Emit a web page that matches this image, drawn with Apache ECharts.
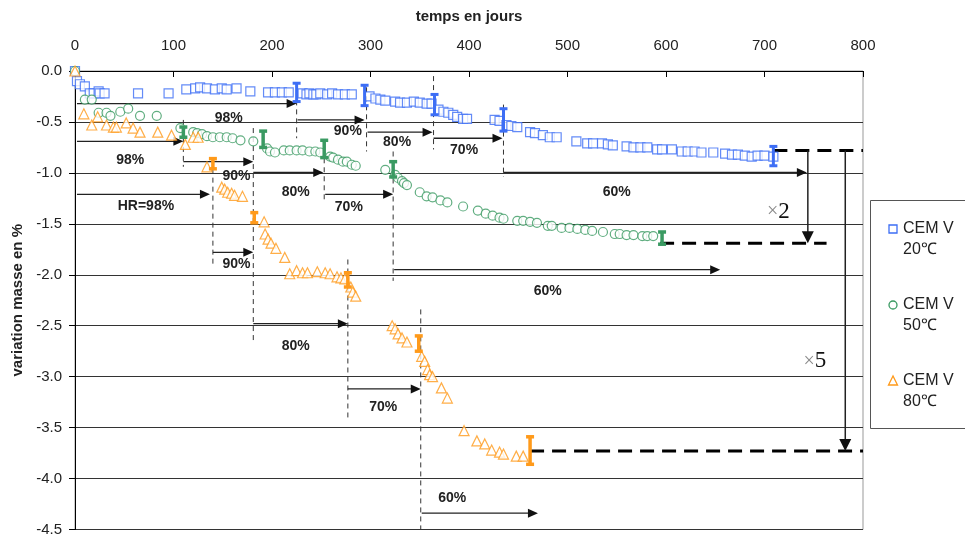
<!DOCTYPE html>
<html><head><meta charset="utf-8">
<script src="https://cdn.jsdelivr.net/npm/echarts@6/dist/echarts.min.js"></script>
<style>html,body{margin:0;padding:0;background:#fff}#c{width:965px;height:537px}</style>
</head><body><div id="c"></div>
<script>
// ---------- data ----------
const xTicks = [0,100,200,300,400,500,600,700,800];
const yTicks = [0,-0.5,-1,-1.5,-2,-2.5,-3,-3.5,-4,-4.5];

const seriesNames = ['CEM V 20℃','CEM V 50℃','CEM V 80℃'];

const blueX = [0,2,5,10,15,19,24,25,30,64,95,113,122,127,134,142,149,154,164,178,196,203,210,217,231,235,238,242,245,249,256,261,267,274,281,299,305,310,315,325,330,337,344,350,357,362,369,374,379,384,388,394,398,426,431,438,443,449,462,467,475,482,489,509,520,526,535,541,546,560,567,574,581,591,596,606,616,622,629,636,648,660,667,673,680,687,693,700,709];
const blueY = [0,-0.10,-0.13,-0.15,-0.22,-0.22,-0.20,-0.22,-0.22,-0.22,-0.22,-0.18,-0.17,-0.16,-0.17,-0.18,-0.17,-0.18,-0.17,-0.20,-0.21,-0.21,-0.21,-0.21,-0.22,-0.23,-0.22,-0.23,-0.23,-0.22,-0.23,-0.22,-0.23,-0.23,-0.23,-0.25,-0.27,-0.28,-0.29,-0.30,-0.31,-0.31,-0.30,-0.31,-0.32,-0.32,-0.38,-0.40,-0.41,-0.43,-0.45,-0.47,-0.47,-0.48,-0.49,-0.53,-0.54,-0.55,-0.60,-0.61,-0.63,-0.65,-0.65,-0.69,-0.71,-0.71,-0.71,-0.72,-0.73,-0.74,-0.75,-0.75,-0.75,-0.77,-0.77,-0.77,-0.79,-0.79,-0.79,-0.80,-0.80,-0.81,-0.82,-0.82,-0.83,-0.84,-0.83,-0.83,-0.84];

const greenX = [0,10,17,24,32,36,46,54,66,83,107,120,124,129,134,140,147,154,160,168,181,195,198,203,212,218,225,231,238,244,249,259,262,267,272,276,281,285,315,325,328,332,334,337,350,357,363,371,378,394,409,417,424,431,435,449,455,462,469,480,484,494,502,510,518,525,536,548,553,560,567,576,581,587];
const greenY = [0,-0.28,-0.28,-0.41,-0.41,-0.44,-0.40,-0.37,-0.44,-0.44,-0.56,-0.60,-0.61,-0.62,-0.64,-0.65,-0.65,-0.65,-0.66,-0.68,-0.69,-0.76,-0.79,-0.80,-0.78,-0.78,-0.78,-0.78,-0.79,-0.79,-0.80,-0.84,-0.85,-0.87,-0.89,-0.89,-0.92,-0.93,-0.97,-1.02,-1.05,-1.08,-1.10,-1.12,-1.19,-1.23,-1.24,-1.27,-1.29,-1.33,-1.37,-1.40,-1.42,-1.44,-1.45,-1.47,-1.47,-1.48,-1.49,-1.52,-1.52,-1.54,-1.54,-1.55,-1.56,-1.57,-1.58,-1.60,-1.60,-1.61,-1.61,-1.62,-1.62,-1.62];

const orangeX = [0,9,17,23,32,39,42,52,59,66,84,98,112,120,125,134,149,152,155,159,162,170,192,193,196,199,204,213,218,225,231,236,246,254,259,266,270,274,280,282,285,322,325,328,332,337,352,355,358,360,363,372,378,395,408,416,423,431,435,448,455];
const orangeY = [0,-0.42,-0.53,-0.45,-0.53,-0.55,-0.55,-0.51,-0.56,-0.60,-0.60,-0.63,-0.72,-0.65,-0.65,-0.94,-1.14,-1.16,-1.19,-1.20,-1.22,-1.23,-1.48,-1.60,-1.65,-1.69,-1.74,-1.83,-1.99,-1.96,-1.98,-1.98,-1.97,-1.98,-1.99,-2.02,-2.03,-2.04,-2.12,-2.17,-2.21,-2.50,-2.53,-2.58,-2.62,-2.66,-2.80,-2.85,-2.93,-2.98,-3.00,-3.11,-3.21,-3.53,-3.63,-3.66,-3.72,-3.74,-3.76,-3.78,-3.78];

// error bars: x, low, high
const blueErrX = [225,294,365,435,709];
const blueErrLo = [-0.30,-0.34,-0.43,-0.59,-0.93];
const blueErrHi = [-0.12,-0.14,-0.23,-0.37,-0.74];
const greenErrX = [110,191,253,323,596];
const greenErrLo = [-0.65,-0.75,-0.85,-1.04,-1.70];
const greenErrHi = [-0.55,-0.59,-0.68,-0.89,-1.58];
const orangeErrX = [140,182,277,349,462];
const orangeErrLo = [-0.96,-1.49,-2.12,-2.75,-3.86];
const orangeErrHi = [-0.86,-1.39,-1.98,-2.60,-3.59];

// annotations (data units): humidity phase arrows [x1, x2, y]
const arrowX1 = [2,226,297,364,435, 2,110,181,254,324, 2,140,181,277,352];
const arrowX2 = [225,294,363,434,743, 110,181,252,323,655, 137,181,277,351,470];
const arrowY  = [-0.32,-0.48,-0.60,-0.66,-0.995, -0.69,-0.89,-0.995,-1.21,-1.95, -1.21,-1.78,-2.48,-3.12,-4.34];
// dashed verticals [x, yTop, yBottom]
const dashX   = [225,296,364,435, 110,181,253,323, 140,277,351];
const dashTop = [-0.20,-0.16,-0.05,-0.33, -0.48,-0.56,-0.68,-0.79, -0.87,-1.85,-2.34];
const dashBot = [-0.66,-0.79,-0.77,-1.04, -0.94,-2.68,-1.29,-2.06, -1.93,-3.40,-4.50];
// phase labels
const labelText = ['98%','90%','80%','70%','60%', '98%','90%','80%','70%','60%', 'HR=98%','90%','80%','70%','60%'];
const labelX = [156,277,327,395,550, 56,164,224,278,480, 72,164,224,313,383];
const labelY = [-0.46,-0.59,-0.70,-0.78,-1.19, -0.87,-1.03,-1.19,-1.34,-2.16, -1.33,-1.90,-2.70,-3.30,-4.19];
// thick dashed final levels [x1, x2, y]
const levelX1 = [709,594,462];
const levelX2 = [800,763,800];
const levelY  = [-0.78,-1.69,-3.73];
// vertical ratio arrows [x, yFrom, yTo]
const ratioX = [744,782];
const ratioFrom = [-0.78,-0.78];
const ratioTo = [-1.69,-3.73];
const ratioLabelX = [716,753];
const ratioLabelY = [-1.38,-2.85];
const ratioLabelText = ['2','5'];

// ---------- styles ----------
const BLUE = '#3d6ef5', GREEN = '#3a9a62', ORANGE = '#ff9a1a';
const FONT = "'Liberation Sans', Arial, sans-serif";

function pairs(xs, ys){ const n=Math.min(xs.length, ys.length); const out=[]; for(let i=0;i<n;i++) out.push([xs[i], ys[i]]); return out; }
function triples(a,b,c){ const n=Math.min(a.length,b.length,c.length); const out=[]; for(let i=0;i<n;i++) out.push([a[i],b[i],c[i]]); return out; }

function errRender(color, w){
  return function(params, api){
    const x=api.value(0), lo=api.value(1), hi=api.value(2);
    const p1=api.coord([x,hi]), p2=api.coord([x,lo]);
    const c=4;
    const st={stroke:color, lineWidth:w};
    return {type:'group', children:[
      {type:'line', shape:{x1:p1[0],y1:p1[1],x2:p2[0],y2:p2[1]}, style:st},
      {type:'line', shape:{x1:p1[0]-c,y1:p1[1],x2:p1[0]+c,y2:p1[1]}, style:st},
      {type:'line', shape:{x1:p2[0]-c,y1:p2[1],x2:p2[0]+c,y2:p2[1]}, style:st}
    ]};
  };
}

function arrowRender(params, api){
  const x1=api.value(0), x2=api.value(1), y=api.value(2);
  const a=api.coord([x1,y]), b=api.coord([x2,y]);
  const L=10, H=4.5;
  return {type:'group', children:[
    {type:'line', shape:{x1:a[0],y1:a[1],x2:b[0]-L+1,y2:b[1]}, style:{stroke:'#222', lineWidth:1.3}},
    {type:'polygon', shape:{points:[[b[0],b[1]],[b[0]-L,b[1]-H],[b[0]-L,b[1]+H]]}, style:{fill:'#111'}}
  ]};
}
function dashRender(params, api){
  const x=api.value(0), t=api.value(1), bo=api.value(2);
  const a=api.coord([x,t]), b=api.coord([x,bo]);
  return {type:'line', shape:{x1:a[0],y1:a[1],x2:b[0],y2:b[1]}, style:{stroke:'#333', lineWidth:1, lineDash:[5,4]}};
}
function labelRender(params, api){
  const p=api.coord([api.value(0), api.value(1)]);
  return {type:'text', x:p[0], y:p[1], style:{text:labelText[params.dataIndex], fill:'#222', font:"bold 14px "+FONT, align:'center', verticalAlign:'middle'}};
}
function levelRender(params, api){
  const a=api.coord([api.value(0), api.value(2)]), b=api.coord([api.value(1), api.value(2)]);
  return {type:'line', shape:{x1:a[0],y1:a[1],x2:b[0],y2:b[1]}, style:{stroke:'#000', lineWidth:3, lineDash:[14,8]}};
}
function ratioRender(params, api){
  const x=api.value(0);
  const a=api.coord([x, api.value(1)]), b=api.coord([x, api.value(2)]);
  const L=12, H=6;
  return {type:'group', children:[
    {type:'line', shape:{x1:a[0],y1:a[1],x2:b[0],y2:b[1]-L+1}, style:{stroke:'#222', lineWidth:1.5}},
    {type:'polygon', shape:{points:[[b[0],b[1]],[b[0]-H,b[1]-L],[b[0]+H,b[1]-L]]}, style:{fill:'#111'}}
  ]};
}
function ratioLabelRender(params, api){
  const p=api.coord([api.value(0), api.value(1)]);
  return {type:'group', children:[
    {type:'text', x:p[0]-2, y:p[1], style:{text:'×', fill:'#8a8a8a', font:"20px 'Liberation Serif', 'DejaVu Serif', serif", align:'right', verticalAlign:'middle'}},
    {type:'text', x:p[0]-2, y:p[1], style:{text:ratioLabelText[params.dataIndex], fill:'#111', font:"23px 'Liberation Serif', 'DejaVu Serif', serif", align:'left', verticalAlign:'middle'}}
  ]};
}

const chart = echarts.init(document.getElementById('c'), null, {renderer:'canvas'});

const legendItems = [
  {y:229, color:BLUE, shape:'rect'},
  {y:305, color:GREEN, shape:'circle'},
  {y:381, color:ORANGE, shape:'tri'}
];
const graphics = [{type:'rect', left:870, top:200, shape:{x:0,y:0,width:110,height:228}, style:{fill:'#fff', stroke:'#555', lineWidth:1}, z:10}];
legendItems.forEach((it, i) => {
  let sym;
  if (it.shape==='rect') sym = {type:'rect', x:889, y:it.y-4, shape:{x:0,y:0,width:8,height:8}, style:{fill:'#fff', stroke:it.color, lineWidth:1.3}};
  else if (it.shape==='circle') sym = {type:'circle', x:893, y:it.y, shape:{cx:0,cy:0,r:4}, style:{fill:'#fff', stroke:it.color, lineWidth:1.3}};
  else sym = {type:'polygon', x:893, y:it.y, shape:{points:[[0,-5],[-4.5,4],[4.5,4]]}, style:{fill:'#fff', stroke:it.color, lineWidth:1.3}};
  sym.z = 11;
  graphics.push(sym);
  const nm = seriesNames[i].split(' ');
  graphics.push({type:'text', x:903, y:it.y, z:11, style:{text:nm[0]+' '+nm[1], fill:'#222', font:"16px "+FONT, verticalAlign:'middle'}});
  graphics.push({type:'text', x:903, y:it.y+21, z:11, style:{text:nm[2], fill:'#222', font:"16px "+FONT, verticalAlign:'middle'}});
});

const option = {
  animation:false,
  backgroundColor:'#fff',
  grid:{left:75, right:102, top:71, bottom:6, show:true, borderColor:'#999', borderWidth:1},
  xAxis:{
    type:'value', position:'top', min:xTicks[0], max:xTicks[xTicks.length-1], interval:100,
    name:'temps en jours', nameLocation:'middle', nameGap:47,
    nameTextStyle:{fontFamily:FONT, fontWeight:'bold', fontSize:15, color:'#222'},
    axisLine:{show:true, onZero:false, lineStyle:{color:'#000', width:1}},
    axisTick:{show:true, inside:true, length:6, lineStyle:{color:'#000'}},
    axisLabel:{fontFamily:"'Liberation Sans Narrow', 'Liberation Sans', Arial", fontSize:15, color:'#222', margin:18},
    splitLine:{show:false}
  },
  yAxis:{
    type:'value', min:yTicks[yTicks.length-1], max:yTicks[0], interval:0.5,
    name:'variation masse en %', nameLocation:'middle', nameGap:50,
    nameTextStyle:{fontFamily:FONT, fontWeight:'bold', fontSize:15, color:'#222'},
    axisLine:{show:true, lineStyle:{color:'#000', width:1}},
    axisTick:{show:true, inside:false, length:6, lineStyle:{color:'#000'}},
    axisLabel:{fontFamily:FONT, fontSize:15, color:'#222', margin:13, formatter:v=>v.toFixed(1)},
    splitLine:{show:true, lineStyle:{color:'#333', width:1}}
  },
  graphic:graphics,
  series:[
    {type:'custom', name:'dash', data:triples(dashX,dashTop,dashBot), renderItem:dashRender, silent:true, z:2},
    {type:'custom', name:'arrows', data:triples(arrowX1,arrowX2,arrowY), renderItem:arrowRender, silent:true, z:3},
    {type:'custom', name:'labels', data:pairs(labelX,labelY), renderItem:labelRender, silent:true, z:3},
    {type:'custom', name:'levels', data:triples(levelX1,levelX2,levelY), renderItem:levelRender, silent:true, z:3},
    {type:'custom', name:'ratio', data:triples(ratioX,ratioFrom,ratioTo), renderItem:ratioRender, silent:true, z:3},
    {type:'custom', name:'ratioLabels', data:pairs(ratioLabelX,ratioLabelY), renderItem:ratioLabelRender, silent:true, z:3},
    {type:'scatter', name:seriesNames[0], data:pairs(blueX,blueY), symbol:'rect', symbolSize:9, itemStyle:{color:'#fff', borderColor:BLUE, borderWidth:1.2}, z:5},
    {type:'scatter', name:seriesNames[1], data:pairs(greenX,greenY), symbol:'circle', symbolSize:9, itemStyle:{color:'#fff', borderColor:GREEN, borderWidth:1.2}, z:5},
    {type:'scatter', name:seriesNames[2], data:pairs(orangeX,orangeY), symbol:'triangle', symbolSize:10, itemStyle:{color:'#fff', borderColor:ORANGE, borderWidth:1.2}, z:5},
    {type:'custom', name:'eb1', data:triples(blueErrX,blueErrLo,blueErrHi), renderItem:errRender(BLUE,3), silent:true, z:6},
    {type:'custom', name:'eb2', data:triples(greenErrX,greenErrLo,greenErrHi), renderItem:errRender(GREEN,3.5), silent:true, z:6},
    {type:'custom', name:'eb3', data:triples(orangeErrX,orangeErrLo,orangeErrHi), renderItem:errRender(ORANGE,3.5), silent:true, z:6}
  ]
};
chart.setOption(option);
</script>
</body></html>
